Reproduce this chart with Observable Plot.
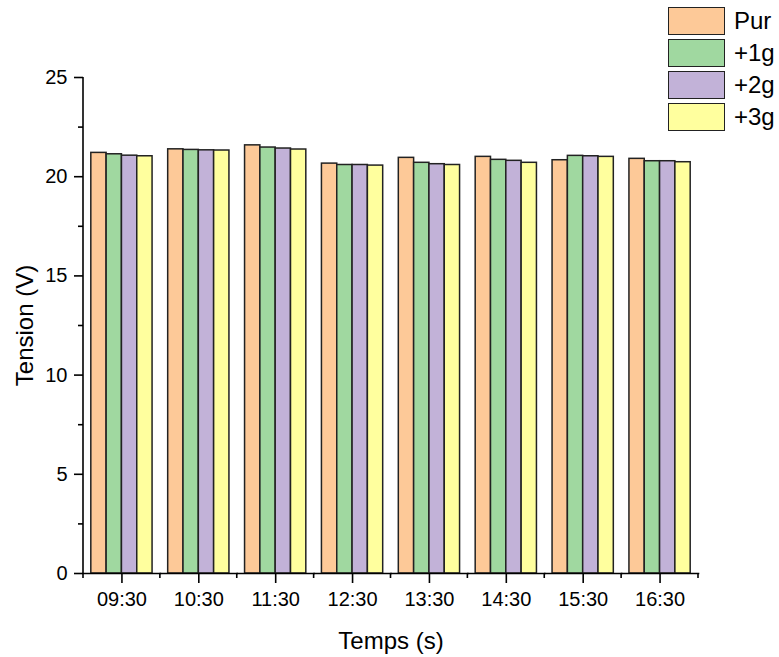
<!DOCTYPE html>
<html><head><meta charset="utf-8">
<script src="https://cdn.jsdelivr.net/npm/d3@7"></script>
<script src="https://cdn.jsdelivr.net/npm/@observablehq/plot@0.6"></script>
<style>
body{margin:0;background:#fff;font-family:"Liberation Sans",Arial,sans-serif;}
#wrap{position:relative;width:779px;height:657px;}
#legend{position:absolute;left:668px;top:7px;}
.item{display:flex;align-items:center;height:28px;margin-bottom:4px;}
.sw{width:57px;height:28px;box-sizing:border-box;border:1.5px solid #222;}
.lab{margin-left:9px;font-size:24px;color:#000;line-height:28px;}
</style></head><body>
<div id="wrap"><div id="chart"></div><div id="legend"></div></div>
<script>
const times = ["09:30","10:30","11:30","12:30","13:30","14:30","15:30","16:30"];
const series = ["Pur","+1g","+2g","+3g"];
const pur = [21.20, 21.38, 21.58, 20.66, 20.95, 21.00, 20.83, 20.90];
const g1  = [21.13, 21.35, 21.47, 20.59, 20.70, 20.85, 21.05, 20.78];
const g2  = [21.06, 21.33, 21.42, 20.59, 20.63, 20.80, 21.03, 20.78];
const g3  = [21.03, 21.32, 21.37, 20.56, 20.59, 20.70, 21.00, 20.73];
const colors = ["#FDC998","#A0D8A0","#C2B2D8","#FFFF9E"];
const yTicks = [0,5,10,15,20,25];
const yMinor = [2.5,7.5,12.5,17.5,22.5];

const values = [pur, g1, g2, g3];
const data = [];
times.forEach((t, i) => series.forEach((s, j) => data.push({time: t, series: s, value: values[j][i]})));

const font = "Liberation Sans, Arial, sans-serif";
const chart = Plot.plot({
  width: 779, height: 657,
  marginLeft: 83, marginRight: 81, marginTop: 77, marginBottom: 84,
  style: {fontFamily: font, color: "#000", background: "#fff", overflow: "visible"},
  fx: {domain: times, paddingInner: 0, paddingOuter: 0, round: false},
  x: {domain: series, paddingInner: 0, paddingOuter: 0.51, round: false, axis: null},
  y: {domain: [0, 25]},
  color: {domain: series, range: colors},
  marks: [
    Plot.barY(data, {fx: "time", x: "series", y: "value", fill: "series", stroke: "#222", strokeWidth: 1.5}),
    Plot.frame({anchor: "bottom", stroke: "#000", strokeWidth: 1.6}),
    Plot.axisY({ticks: yTicks, tickSize: 9, tickPadding: 7, fontSize: 20, strokeWidth: 1.6, label: null, tickFormat: d => String(d)}),
    Plot.axisY({ticks: yMinor, tickSize: 5, strokeWidth: 1.6, text: null, label: null}),
    Plot.axisY({ticks: [], tickSize: 0, label: "Tension (V)", labelArrow: "none", labelAnchor: "center", labelOffset: 68, fontSize: 24}),
    Plot.axisFx({anchor: "bottom", tickSize: 10, tickPadding: 8, fontSize: 20, strokeWidth: 1.6, label: null}),
    Plot.axisFx({anchor: "bottom", ticks: [], tickSize: 0, label: "Temps (s)", labelArrow: "none", labelAnchor: "center", labelOffset: 75, fontSize: 24})
  ]
});
document.getElementById("chart").appendChild(chart);

// y-axis line and minor x ticks at band boundaries, from Plot's own scales
const fx = chart.scale("fx");
const y = chart.scale("y");
const svg = d3.select(chart);
const g = svg.append("g").attr("stroke", "#000").attr("stroke-width", 1.6).attr("fill", "none");
const edges = times.map(t => fx.apply(t)).concat([fx.apply(times[times.length - 1]) + fx.bandwidth]);
g.append("line").attr("x1", edges[0]).attr("x2", edges[0]).attr("y1", y.apply(0)).attr("y2", y.apply(25));
edges.forEach(e => g.append("line").attr("x1", e).attr("x2", e).attr("y1", y.apply(0)).attr("y2", y.apply(0) + 5));

// legend
const lg = d3.select("#legend");
series.forEach((s, j) => {
  const it = lg.append("div").attr("class", "item");
  it.append("div").attr("class", "sw").style("background", colors[j]);
  it.append("div").attr("class", "lab").text(s);
});
</script>
</body></html>
